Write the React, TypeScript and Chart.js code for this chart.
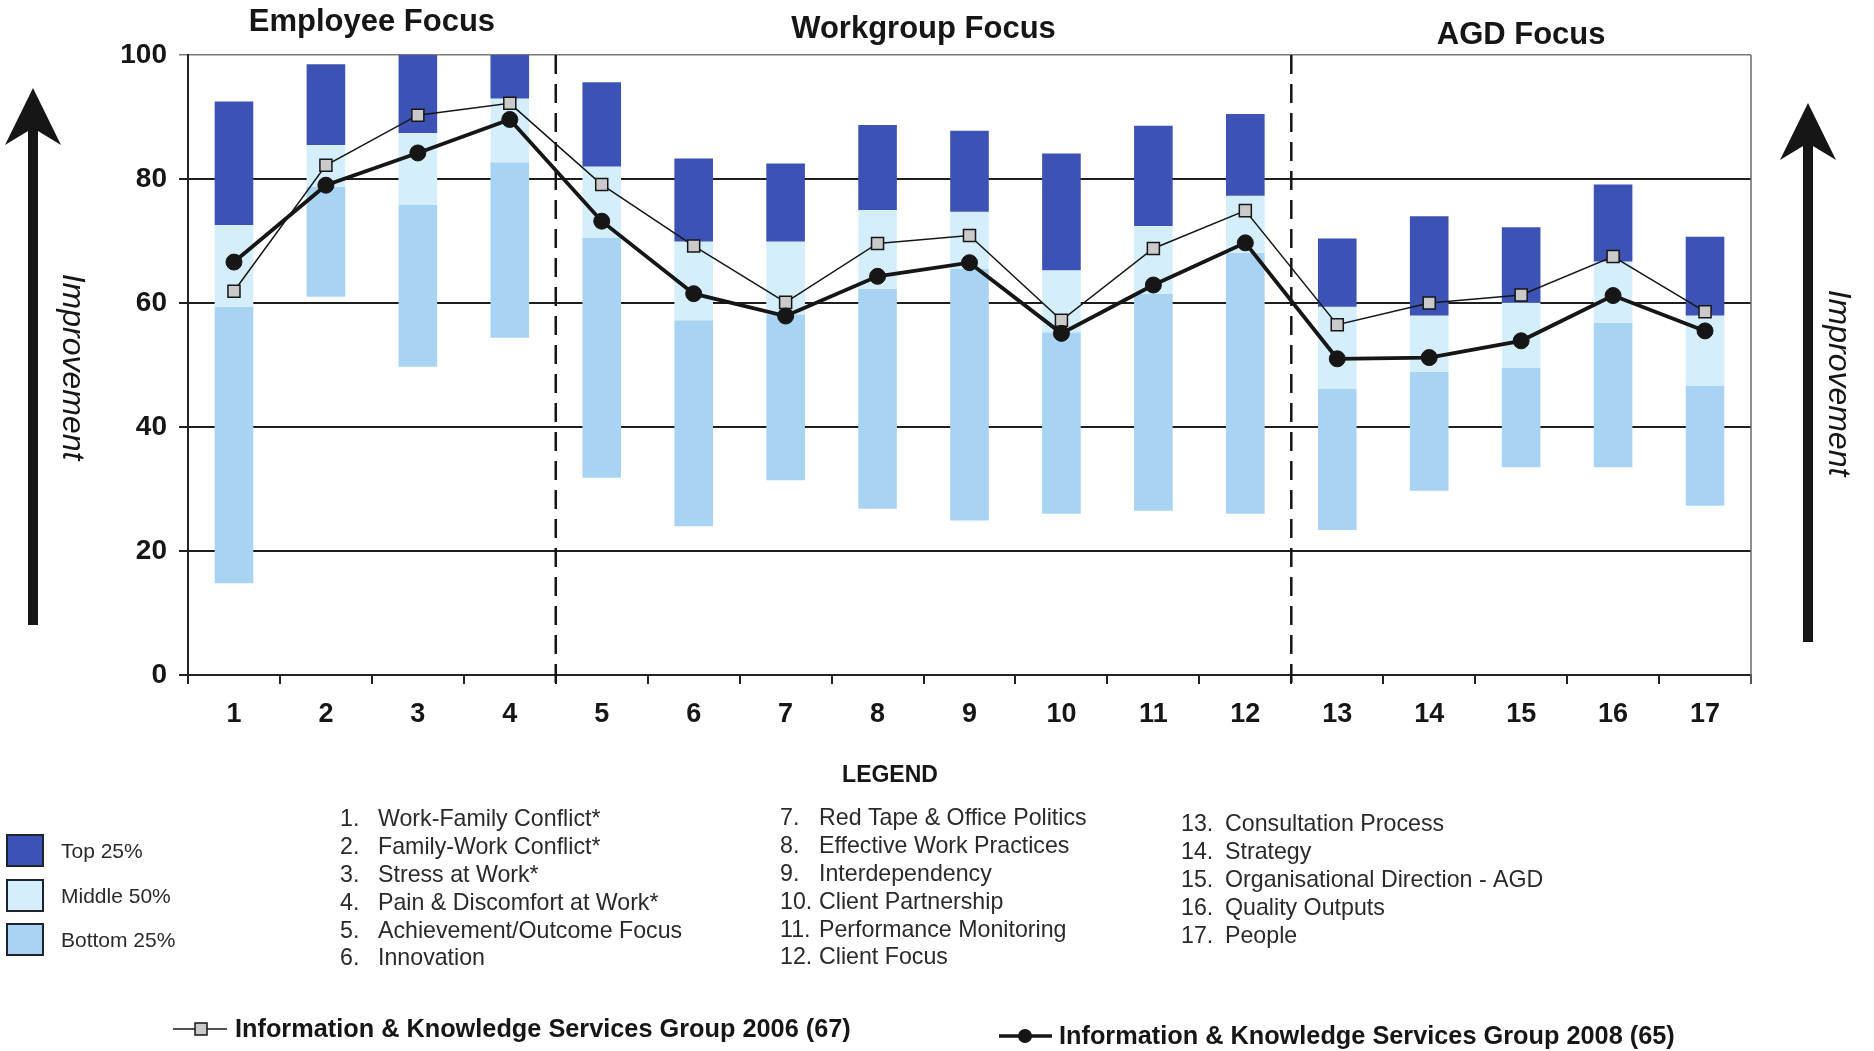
import { useEffect, useRef } from "react";
import { Chart, registerables } from "chart.js";

Chart.register(...registerables);

// Survey dimensions (x axis)
const categories = ["1", "2", "3", "4", "5", "6", "7", "8", "9", "10", "11", "12", "13", "14", "15", "16", "17"];

// Benchmark bands: upper edge of the top quartile, lower edge of the top quartile,
// lower edge of the middle 50% and lower edge of the bottom quartile
const topHigh = [92.5, 98.5, 100, 100, 95.6, 83.3, 82.5, 88.7, 87.8, 84.1, 88.6, 90.5, 70.4, 74.0, 72.2, 79.1, 70.7];
const topLow = [72.6, 85.5, 87.4, 93.0, 82.0, 69.9, 69.9, 75.0, 74.7, 65.3, 72.4, 77.3, 59.4, 58.0, 60.1, 66.7, 58.0];
const middleLow = [59.4, 78.7, 75.9, 82.7, 70.5, 57.2, 58.2, 62.3, 65.5, 55.3, 61.5, 68.1, 46.2, 48.9, 49.5, 56.8, 46.6];
const bottomLow = [14.8, 61.0, 49.7, 54.4, 31.8, 24.0, 31.4, 26.8, 24.9, 26.0, 26.5, 26.0, 23.4, 29.7, 33.5, 33.5, 27.3];

// Group results
const group2006 = [61.9, 82.2, 90.3, 92.2, 79.1, 69.2, 60.1, 69.6, 70.9, 57.2, 68.8, 74.9, 56.5, 60.0, 61.3, 67.5, 58.6];
const group2008 = [66.6, 79.0, 84.2, 89.6, 73.2, 61.5, 57.9, 64.3, 66.5, 55.1, 62.9, 69.7, 51.0, 51.2, 53.9, 61.2, 55.5];

const seriesLabels = [
  "Information & Knowledge Services Group 2006 (67)",
  "Information & Knowledge Services Group 2008 (65)",
];
const bandLabels = ["Top 25%", "Middle 50%", "Bottom 25%"];

// Focus areas: title and the range of dimensions they cover (1-based, inclusive)
const focusTitles = ["Employee Focus", "Workgroup Focus", "AGD Focus"];
const focusRanges = [
  [1, 4],
  [5, 12],
  [13, 17],
];

const dimensionNames = [
  "Work-Family Conflict*",
  "Family-Work Conflict*",
  "Stress at Work*",
  "Pain & Discomfort at Work*",
  "Achievement/Outcome Focus",
  "Innovation",
  "Red Tape & Office Politics",
  "Effective Work Practices",
  "Interdependency",
  "Client Partnership",
  "Performance Monitoring",
  "Client Focus",
  "Consultation Process",
  "Strategy",
  "Organisational Direction - AGD",
  "Quality Outputs",
  "People",
];

const yTicks = [0, 20, 40, 60, 80, 100];

const FONT = "'Liberation Sans', Arial, Helvetica, sans-serif";
const DARK = "#3c52b4";
const PALE = "#d5eefb";
const MEDIUM = "#a8d3f2";
const INK = "#161616";

function drawArrow(ctx: CanvasRenderingContext2D, cx: number, tipY: number, bottomY: number) {
  ctx.save();
  ctx.fillStyle = INK;
  ctx.fillRect(cx - 5, tipY + 36, 10, bottomY - tipY - 36);
  ctx.beginPath();
  ctx.moveTo(cx, tipY);
  ctx.lineTo(cx + 28, tipY + 57);
  ctx.lineTo(cx, tipY + 40);
  ctx.lineTo(cx - 28, tipY + 57);
  ctx.closePath();
  ctx.fill();
  ctx.restore();
}

function drawVerticalText(ctx: CanvasRenderingContext2D, text: string, x: number, y: number) {
  ctx.save();
  ctx.translate(x, y);
  ctx.rotate(Math.PI / 2);
  ctx.font = `italic 32px ${FONT}`;
  ctx.fillStyle = INK;
  ctx.textAlign = "center";
  ctx.textBaseline = "middle";
  ctx.fillText(text, 0, 0);
  ctx.restore();
}

const decorations = {
  id: "decorations",
  beforeDatasetsDraw(chart: any) {
    const { ctx, chartArea, scales } = chart;
    const x = scales.x;
    ctx.save();
    // right frame line
    ctx.strokeStyle = "#6a6a6a";
    ctx.lineWidth = 1.5;
    ctx.beginPath();
    ctx.moveTo(chartArea.right, chartArea.top);
    ctx.lineTo(chartArea.right, chartArea.bottom + 9);
    ctx.stroke();
    // dashed dividers between focus areas
    ctx.strokeStyle = INK;
    ctx.lineWidth = 2.5;
    ctx.setLineDash([19, 10]);
    for (let i = 0; i < focusRanges.length - 1; i++) {
      const last = focusRanges[i][1];
      const px = (x.getPixelForValue(last - 1) + x.getPixelForValue(last)) / 2;
      ctx.beginPath();
      ctx.moveTo(px, chartArea.top);
      ctx.lineTo(px, chartArea.bottom + 12);
      ctx.stroke();
    }
    ctx.restore();
  },
  afterDraw(chart: any) {
    const { ctx, scales } = chart;
    const x = scales.x;
    ctx.save();

    // focus area titles
    const titleY = [22, 29, 35];
    ctx.font = `bold 31px ${FONT}`;
    ctx.fillStyle = INK;
    ctx.textAlign = "center";
    ctx.textBaseline = "middle";
    focusTitles.forEach((t, i) => {
      const [a, b] = focusRanges[i];
      const cx = (x.getPixelForValue(a - 1) + x.getPixelForValue(b - 1)) / 2;
      ctx.fillText(t, cx, titleY[i]);
    });

    // improvement arrows
    drawArrow(ctx, 33, 88, 625);
    drawArrow(ctx, 1808, 103, 642);
    drawVerticalText(ctx, "Improvement", 72, 367);
    drawVerticalText(ctx, "Improvement", 1838, 383);

    // legend heading
    ctx.font = `bold 23px ${FONT}`;
    ctx.textAlign = "center";
    ctx.fillText("LEGEND", 890, 776);

    // band swatches
    const swatchY = [835, 880, 924];
    const bandColors = [DARK, PALE, MEDIUM];
    ctx.textAlign = "left";
    ctx.font = `21px ${FONT}`;
    bandLabels.forEach((label, i) => {
      ctx.fillStyle = bandColors[i];
      ctx.fillRect(7, swatchY[i], 36, 31);
      ctx.strokeStyle = "#1d2430";
      ctx.lineWidth = 2;
      ctx.strokeRect(7, swatchY[i], 36, 31);
      ctx.fillStyle = "#2a2a2a";
      ctx.fillText(label, 61, swatchY[i] + 17);
    });

    // numbered list of dimensions, three columns
    const columns = [
      { start: 0, count: 6, numX: 340, textX: 378, y0: 820 },
      { start: 6, count: 6, numX: 780, textX: 819, y0: 819 },
      { start: 12, count: 5, numX: 1181, textX: 1225, y0: 825 },
    ];
    ctx.font = `23.2px ${FONT}`;
    ctx.fillStyle = "#2a2a2a";
    columns.forEach((col) => {
      for (let k = 0; k < col.count; k++) {
        const idx = col.start + k;
        const y = col.y0 + k * 27.8;
        ctx.fillText(`${idx + 1}.`, col.numX, y);
        ctx.fillText(dimensionNames[idx], col.textX, y);
      }
    });

    // series legend
    ctx.font = `bold 25.3px ${FONT}`;
    ctx.fillStyle = INK;
    // 2006
    ctx.strokeStyle = INK;
    ctx.lineWidth = 1.5;
    ctx.beginPath();
    ctx.moveTo(173, 1029);
    ctx.lineTo(227, 1029);
    ctx.stroke();
    ctx.fillStyle = "#cacaca";
    ctx.fillRect(195, 1023, 12, 12);
    ctx.strokeRect(195, 1023, 12, 12);
    ctx.fillStyle = INK;
    ctx.fillText(seriesLabels[0], 235, 1030);
    // 2008
    ctx.lineWidth = 3.5;
    ctx.beginPath();
    ctx.moveTo(999, 1036);
    ctx.lineTo(1052, 1036);
    ctx.stroke();
    ctx.beginPath();
    ctx.arc(1025, 1036, 7, 0, Math.PI * 2);
    ctx.fill();
    ctx.fillText(seriesLabels[1], 1059, 1037);

    ctx.restore();
  },
};

export default function App() {
  const canvasRef = useRef<HTMLCanvasElement | null>(null);

  useEffect(() => {
    const canvas = canvasRef.current;
    if (!canvas) return;
    const pairs = (lo: number[], hi: number[]) => lo.map((v, i) => [v, hi[i]]);

    const chart = new Chart(canvas, {
      type: "bar",
      data: {
        labels: categories,
        datasets: [
          {
            type: "line",
            label: seriesLabels[1],
            data: group2008,
            borderColor: INK,
            borderWidth: 3.8,
            pointStyle: "circle",
            pointRadius: 8,
            pointBackgroundColor: INK,
            pointBorderColor: INK,
            pointBorderWidth: 1,
            tension: 0,
            order: 0,
          } as any,
          {
            type: "line",
            label: seriesLabels[0],
            data: group2006,
            borderColor: INK,
            borderWidth: 1.5,
            pointStyle: "rect",
            pointRadius: 8.5,
            pointBackgroundColor: "#cacaca",
            pointBorderColor: INK,
            pointBorderWidth: 1.5,
            tension: 0,
            order: 1,
          } as any,
          {
            label: bandLabels[0],
            data: pairs(topLow, topHigh),
            backgroundColor: DARK,
            borderSkipped: false,
            barPercentage: 0.42,
            categoryPercentage: 1,
            order: 2,
          } as any,
          {
            label: bandLabels[1],
            data: pairs(middleLow, topLow),
            backgroundColor: PALE,
            borderSkipped: false,
            barPercentage: 0.42,
            categoryPercentage: 1,
            order: 3,
          } as any,
          {
            label: bandLabels[2],
            data: pairs(bottomLow, middleLow),
            backgroundColor: MEDIUM,
            borderSkipped: false,
            barPercentage: 0.42,
            categoryPercentage: 1,
            order: 4,
          } as any,
        ],
      },
      options: {
        animation: false,
        responsive: false,
        maintainAspectRatio: false,
        devicePixelRatio: 1,
        layout: { padding: { left: 0, right: 123, top: 55, bottom: 316 } },
        plugins: {
          legend: { display: false },
          tooltip: { enabled: false },
        },
        scales: {
          x: {
            stacked: true,
            afterFit: (scale: any) => {
              scale.height = 60;
            },
            grid: {
              drawOnChartArea: false,
              offset: true,
              tickLength: 9,
              color: "#222",
              lineWidth: 2,
            },
            border: { display: true, color: "#222", width: 2 },
            ticks: {
              color: INK,
              padding: 14,
              font: { family: FONT, size: 27, weight: "bold" },
            },
          },
          y: {
            stacked: false,
            min: 0,
            max: 100,
            afterFit: (scale: any) => {
              scale.width = 188;
            },
            afterBuildTicks: (scale: any) => {
              scale.ticks = yTicks.map((v) => ({ value: v }));
            },
            grid: {
              tickLength: 9,
              color: (c: any) => (c.tick && c.tick.value === 100 ? "#7a7a7a" : "#1e1e1e"),
              lineWidth: (c: any) => (c.tick && c.tick.value === 100 ? 1.5 : 2),
            },
            border: { display: true, color: "#222", width: 2 },
            ticks: {
              color: INK,
              padding: 12,
              font: { family: FONT, size: 28, weight: "bold" },
            },
          },
        },
      } as any,
      plugins: [decorations],
    });

    return () => chart.destroy();
  }, []);

  return (
    <div style={{ position: "absolute", left: 0, top: 0, width: 1874, height: 1051, background: "#ffffff" }}>
      <canvas ref={canvasRef} width={1874} height={1051} style={{ display: "block" }} />
    </div>
  );
}
